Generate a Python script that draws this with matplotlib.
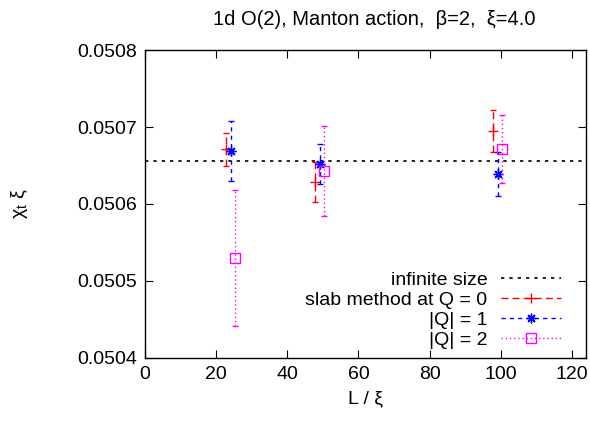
import numpy as np
import matplotlib.pyplot as plt
from matplotlib.lines import Line2D

plt.rcParams['font.family'] = ['Liberation Sans', 'DejaVu Sans']

# data
L_xi = np.array([25, 50, 100])
chi_inf = 0.050656

slab_y = np.array([0.050671, 0.050629, 0.050695])
slab_err = np.array([0.0000214, 0.0000260, 0.0000273])

q1_y = np.array([0.050669, 0.050652, 0.050639])
q1_err = np.array([0.0000390, 0.0000260, 0.0000286])

q2_y = np.array([0.050530, 0.050643, 0.050671])
q2_err = np.array([0.0000883, 0.0000584, 0.0000442])

red = '#ff0000'
blue = '#0000ff'
mag = '#ff00ff'
fs = 14

fig = plt.figure(figsize=(5.9, 4.22), dpi=100)
ax = fig.add_axes([0.2458, 0.1517, 0.9932 - 0.2458, 0.8815 - 0.1517])

ax.axhline(chi_inf, color='black', lw=1.2, ls=(0, (2, 3)))


def series(x, y, err, color, marker, ms, ls):
	eb = ax.errorbar(x, y, yerr=err, fmt='none', ecolor=color, elinewidth=1.0,
	                 capsize=2.5, capthick=1.0)
	for c in eb[2]:
		c.set_linestyle(ls)
	ax.plot(x, y, ls='none', marker=marker, ms=ms, color=color,
	        mfc='none', mew=1.0)


series(L_xi - 2.2, slab_y, slab_err, red, '+', 7, (0, (5, 3)))
series(L_xi - 0.8, q1_y, q1_err, blue, (8, 2, 0), 7, (0, (3, 3)))
series(L_xi + 0.4, q2_y, q2_err, mag, 's', 6.5, (0, (1, 2)))

ax.set_xlim(0, 124)
ax.set_ylim(0.0504, 0.0508)
ax.set_xticks([0, 20, 40, 60, 80, 100, 120])
ax.set_yticks([0.0504, 0.0505, 0.0506, 0.0507, 0.0508])
ax.set_yticklabels(['0.0504', '0.0505', '0.0506', '0.0507', '0.0508'])
ax.tick_params(direction='in', top=True, right=True, length=6, labelsize=fs, pad=6)
for s in ax.spines.values():
	s.set_linewidth(1.0)

ax.set_xlabel('L / ξ', fontsize=fs, labelpad=5)
ax.set_ylabel('χ$_\\mathregular{t}$ ξ', fontsize=fs, labelpad=34)
ax.set_title('1d O(2), Manton action,  β=2,  ξ=4.0', fontsize=14.5, pad=18, x=0.52)

handles = [
	Line2D([], [], color='black', lw=1.2, ls=(0, (2, 3))),
	Line2D([], [], color=red, lw=1.0, ls=(0, (5, 3)), marker='+', ms=7),
	Line2D([], [], color=blue, lw=1.0, ls=(0, (3, 3)), marker=(8, 2, 0), ms=7),
	Line2D([], [], color=mag, lw=1.0, ls=(0, (1, 2)), marker='s', ms=6.5, mfc='none'),
]
labels = ['infinite size', 'slab method at Q = 0', '|Q| = 1', '|Q| = 2']
ax.legend(handles, labels, loc='lower right', frameon=False, markerfirst=False,
          handlelength=3.1, fontsize=fs, labelspacing=0.12,
          bbox_to_anchor=(0.962, 0.005), borderaxespad=0.0, handletextpad=0.7)

fig.savefig('out.png', dpi=100)
